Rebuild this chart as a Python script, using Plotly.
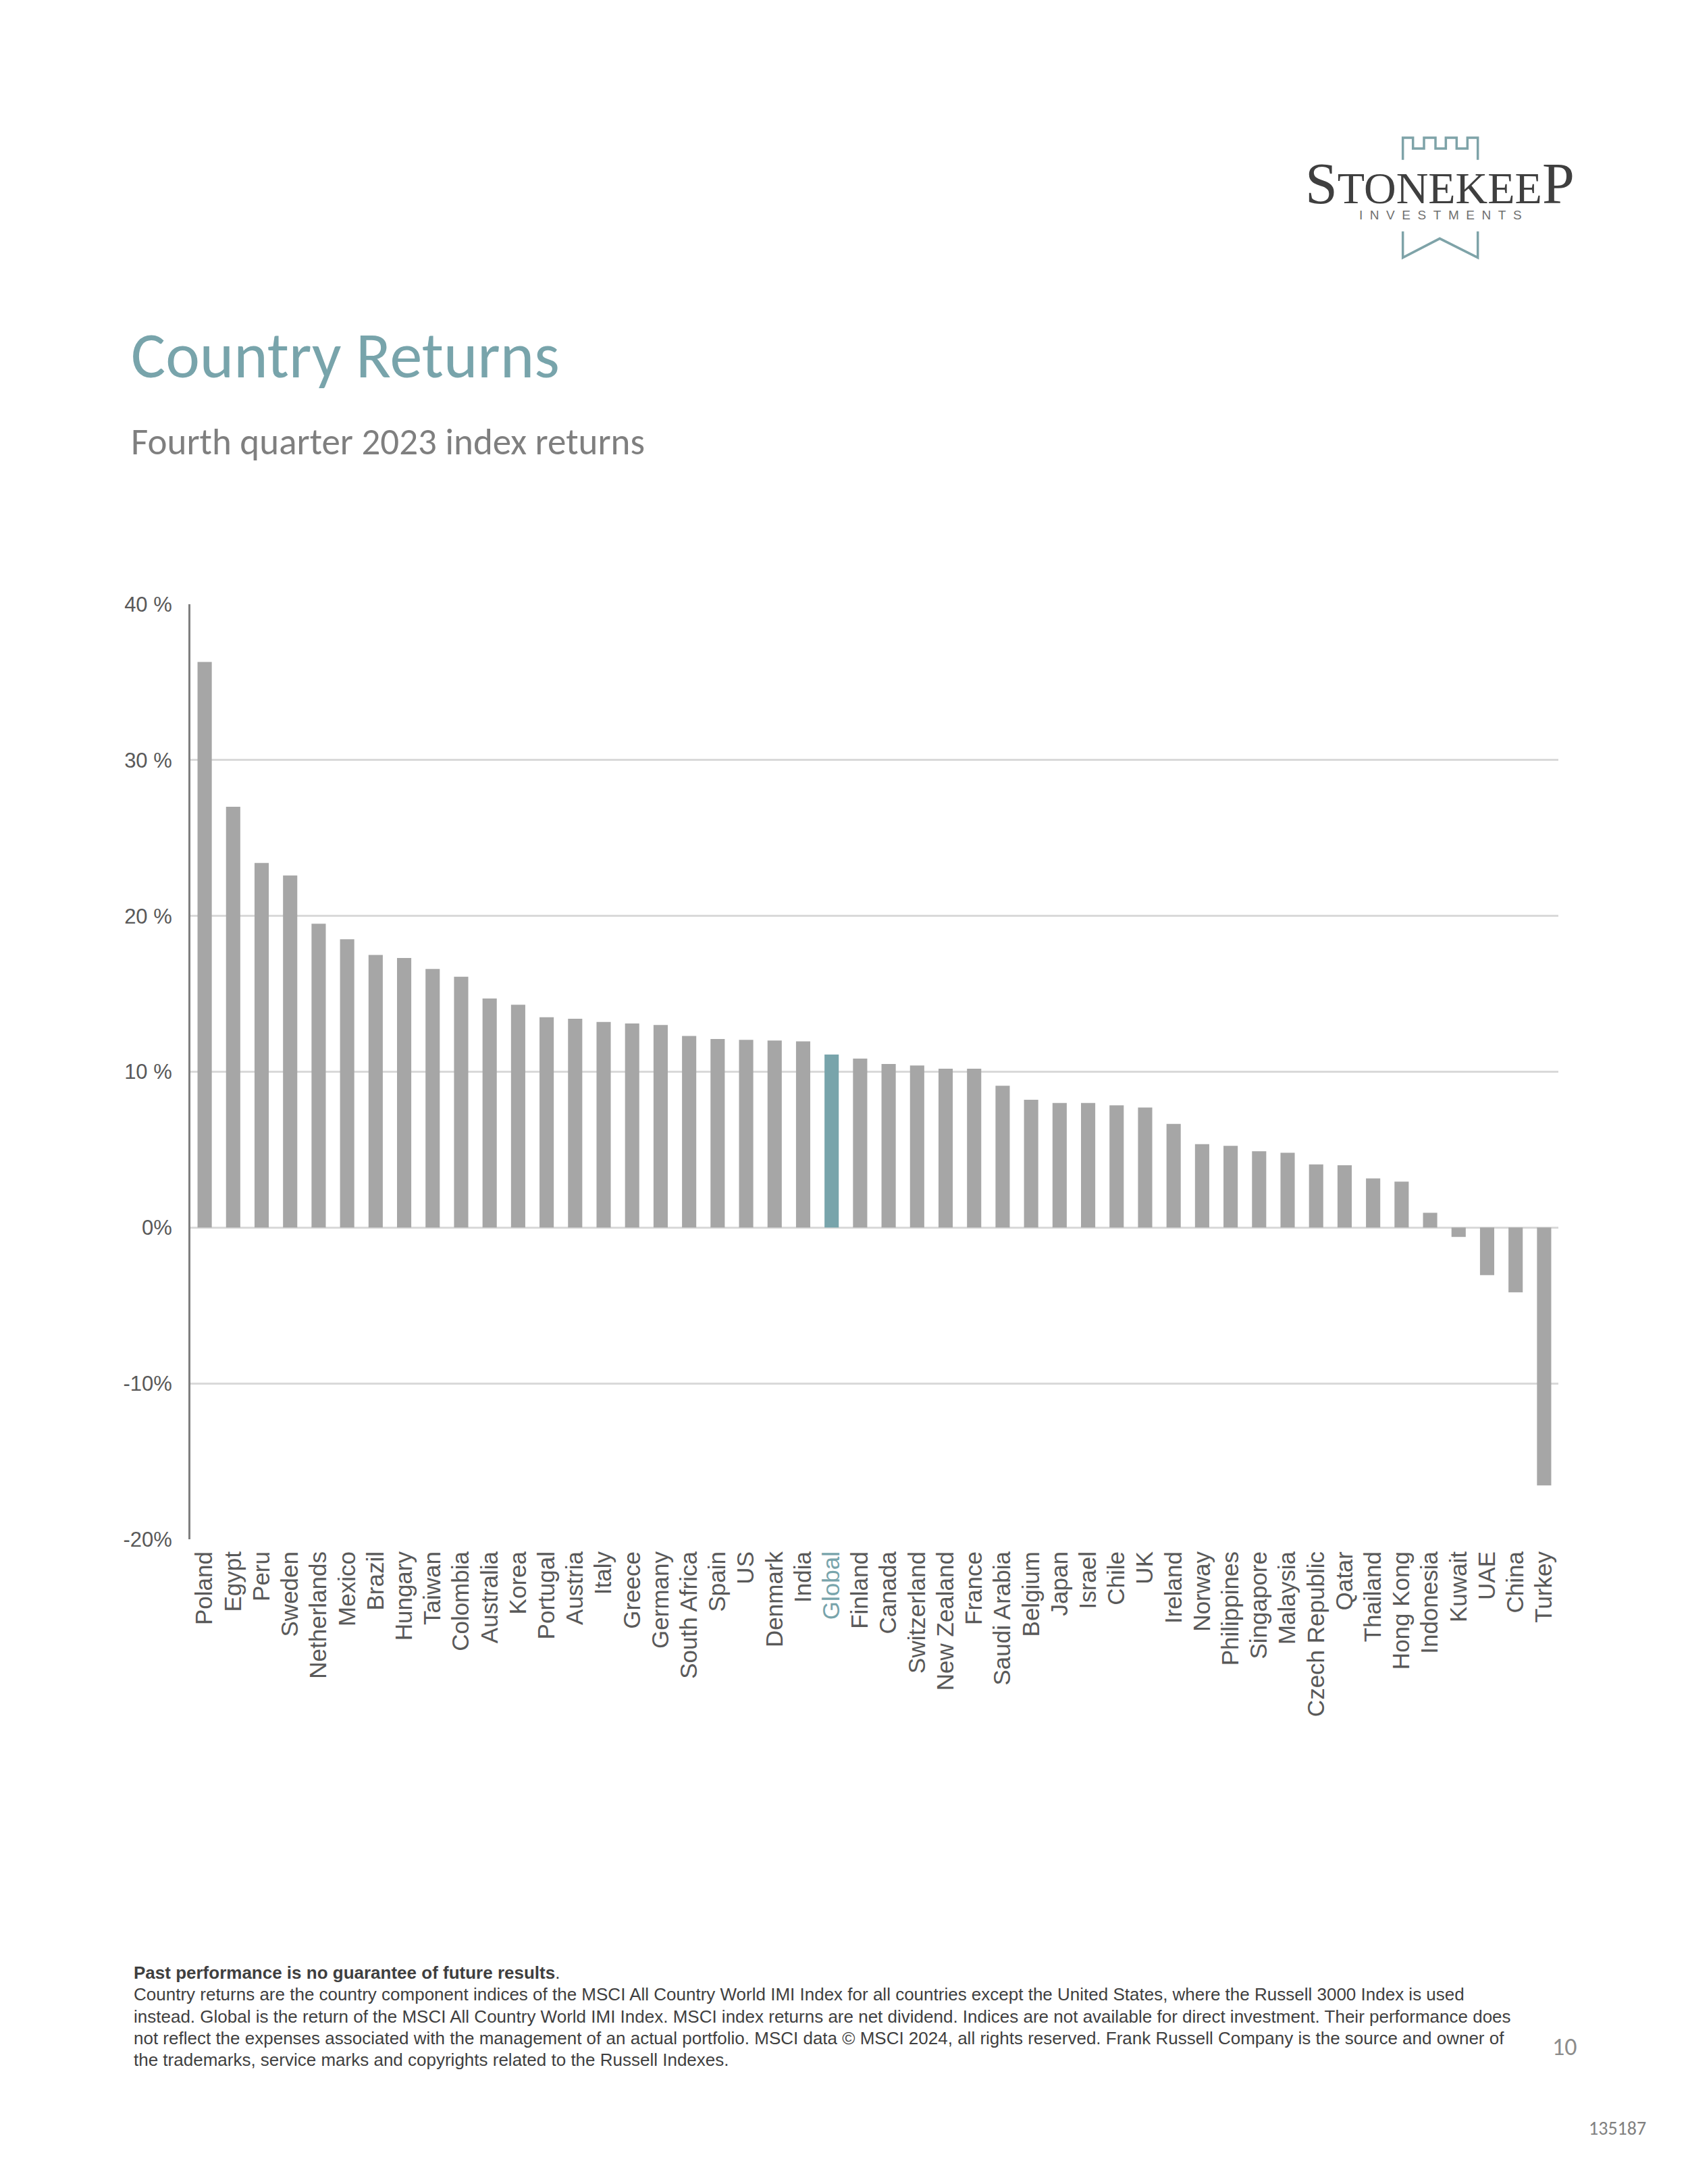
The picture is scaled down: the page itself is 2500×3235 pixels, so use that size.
import plotly.graph_objects as go

# Q4 2023 country index returns (%)
countries = ["Poland", "Egypt", "Peru", "Sweden", "Netherlands", "Mexico", "Brazil", "Hungary",
             "Taiwan", "Colombia", "Australia", "Korea", "Portugal", "Austria", "Italy", "Greece",
             "Germany", "South Africa", "Spain", "US", "Denmark", "India", "Global", "Finland",
             "Canada", "Switzerland", "New Zealand", "France", "Saudi Arabia", "Belgium", "Japan",
             "Israel", "Chile", "UK", "Ireland", "Norway", "Philippines", "Singapore", "Malaysia",
             "Czech Republic", "Qatar", "Thailand", "Hong Kong", "Indonesia", "Kuwait", "UAE",
             "China", "Turkey"]
returns = [36.3, 27.0, 23.4, 22.6, 19.5, 18.5, 17.5, 17.3,
           16.6, 16.1, 14.7, 14.3, 13.5, 13.4, 13.2, 13.1,
           13.0, 12.3, 12.1, 12.05, 12.0, 11.95, 11.1, 10.85,
           10.5, 10.4, 10.2, 10.2, 9.1, 8.2, 8.0,
           8.0, 7.85, 7.7, 6.65, 5.35, 5.25, 4.9, 4.8,
           4.05, 4.0, 3.15, 2.95, 0.95, -0.6, -3.05,
           -4.15, -16.55]
highlight = "Global"

y_ticks = [40, 30, 20, 10, 0, -10, -20]
y_tick_labels = ["40 %", "30 %", "20 %", "10 %", "0%", "-10%", "-20%"]

footnotes = [
    "<b>Past performance is no guarantee of future results</b>.",
    "Country returns are the country component indices of the MSCI All Country World IMI Index for all countries except the United States, where the Russell 3000 Index is used",
    "instead. Global is the return of the MSCI All Country World IMI Index. MSCI index returns are net dividend. Indices are not available for direct investment. Their performance does",
    "not reflect the expenses associated with the management of an actual portfolio. MSCI data \u00a9 MSCI 2024, all rights reserved. Frank Russell Company is the source and owner of",
    "the trademarks, service marks and copyrights related to the Russell Indexes.",
]

GREY = "#a6a6a6"
TEAL = "#78a4ab"
TEXT = "#595959"

# the page body adds an 8px margin, so the figure is drawn 8px in from the page edge
OFF = 8
W, H = 2500 - OFF, 3235 - OFF
L, R, T, B = 282 - OFF, 192, 895 - OFF, 955
PW, PH = W - L - R, H - T - B


def px(x):
    return (x - OFF - L) / PW


def py(y):
    return (H - B - (y - OFF)) / PH


colors = [TEAL if c == highlight else GREY for c in countries]
tick_text = [f'<span style="color:{TEAL}">{c}</span>' if c == highlight else c for c in countries]

fig = go.Figure(go.Bar(x=countries, y=returns, marker_color=colors, marker_line_width=0))

fig.update_layout(
    width=W, height=H, margin=dict(l=L, r=R, t=T, b=B),
    paper_bgcolor="white", plot_bgcolor="white", showlegend=False, bargap=0.5,
    font=dict(family="Liberation Sans, Arial, sans-serif", color=TEXT),
)
fig.update_xaxes(
    tickmode="array", tickvals=countries, ticktext=tick_text, tickangle=-90,
    tickfont=dict(size=35, color=TEXT), showgrid=False, showline=False, ticks="",
    ticklabelstandoff=10, range=[-0.5, len(countries) - 0.5], automargin=False,
)
fig.update_yaxes(
    range=[-20, 40], tickvals=y_ticks, ticktext=y_tick_labels,
    tickfont=dict(size=31, color=TEXT), showgrid=True, gridcolor="#d9d9d9", gridwidth=2.5,
    zeroline=True, zerolinecolor="#d9d9d9", zerolinewidth=2.5,
    showline=True, linecolor="#7f7f7f", linewidth=3, ticks="", ticklabelstandoff=18,
    automargin=False,
)

ann = []
# title block
ann.append(dict(text="Country Returns", x=px(192), y=py(526), xanchor="left", yanchor="middle",
                font=dict(family="Carlito, Lato, sans-serif", size=96, color=TEAL, weight=300)))
ann.append(dict(text="Fourth quarter 2023 index returns", x=px(192), y=py(654), xanchor="left",
                yanchor="middle", font=dict(family="Carlito, Lato, sans-serif", size=55, color="#7f7f7f")))

# logo wordmark
ann.append(dict(text='<span style="font-size:86px">S</span>TONEKEE<span style="font-size:86px">P</span>',
                x=px(2132), y=py(272), xanchor="center", yanchor="middle",
                font=dict(family="Liberation Serif, serif", size=66, color="#3f3f3f")))
ann.append(dict(text="\u00a0\u00a0".join("INVESTMENTS"), x=px(2133), y=py(318), xanchor="center",
                yanchor="middle", font=dict(family="Liberation Sans, sans-serif", size=19, color="#6f6f6f")))

# footnote lines
foot_y = [2922, 2954, 2987, 3019, 3051]
for line, yy in zip(footnotes, foot_y):
    ann.append(dict(text=line, x=px(196), y=py(yy), xanchor="left", yanchor="middle",
                    font=dict(family="Liberation Sans, sans-serif", size=26, color="#3f3f3f")))

ann.append(dict(text="10", x=px(2317), y=py(3032), xanchor="center", yanchor="middle",
                font=dict(family="Carlito, Lato, sans-serif", size=36, color="#8c8c8c")))
ann.append(dict(text="135187", x=px(2395), y=py(3152), xanchor="center", yanchor="middle",
                font=dict(family="Carlito, Lato, sans-serif", size=28, color="#808080")))

for a in ann:
    a.update(xref="paper", yref="paper", showarrow=False, align="left")
fig.update_layout(annotations=ann)


# logo battlement and chevron outlines (zoom coordinates -> page pixels)
def logo_path(points):
    pts = [(px(1900 + X / 3), py(180 + Y / 3)) for X, Y in points]
    return "M " + " L ".join(f"{x:.5f},{y:.5f}" for x, y in pts)


battlement = [(533, 170), (533, 72), (578, 72), (578, 120), (627, 120), (627, 72), (678, 72),
              (678, 120), (724, 120), (724, 72), (772, 72), (772, 120), (820, 120), (820, 72),
              (866, 72), (866, 170)]
chevron = [(533, 488), (533, 605), (697, 520), (866, 605), (866, 488)]
for pts in (battlement, chevron):
    fig.add_shape(type="path", path=logo_path(pts), xref="paper", yref="paper",
                  line=dict(color="#7ea3a8", width=3.5))

fig.write_html("out.html")
